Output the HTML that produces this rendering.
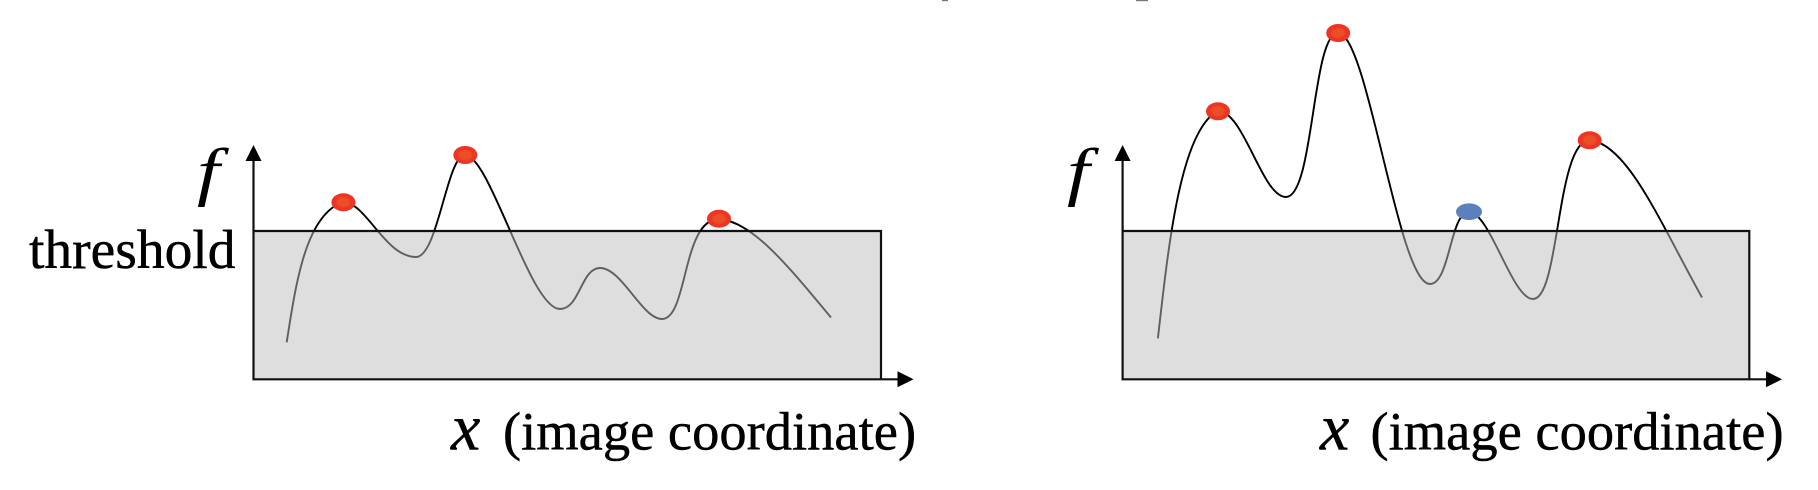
<!DOCTYPE html>
<html>
<head>
<meta charset="utf-8">
<style>
html,body{margin:0;padding:0;background:#fff;width:1818px;height:490px;overflow:hidden}
svg{display:block}
text{font-family:"Liberation Serif",serif;fill:#000;stroke:#000;stroke-width:.45}
text.f{stroke:none}
</style>
</head>
<body>
<svg width="1818" height="490" viewBox="0 0 1818 490" xmlns="http://www.w3.org/2000/svg">
<defs>
<radialGradient id="r"><stop offset="0" stop-color="#ea4f26"/><stop offset=".45" stop-color="#ea4f26"/><stop offset=".65" stop-color="#ee3524"/><stop offset="1" stop-color="#ee3524"/></radialGradient>
</defs>
<rect x="942" y="0" width="6" height="1.2" fill="#777"/>
<rect x="1136" y="0" width="12" height="1.2" fill="#777"/>

<!-- left chart -->
<path d="M286.7,342.3 C296,282 306,215 343,202 C366,202 385,257 416,257 C438,257 447,155 465,155 C490,155 530,309 560,309 C580,309 581,268 600,268 C622,268 642,319 662,319 C688,319 682,219 719,219 C752,222 785,262 831,317.5" fill="none" stroke="#000" stroke-width="1.9"/>
<rect x="253.5" y="231" width="627.5" height="148.3" fill="#bebebe" fill-opacity=".5"/>
<path d="M253.5,160 V379.3 H898 M253.5,231 H881 V379.3" fill="none" stroke="#111" stroke-width="2.2"/>
<polygon points="253.5,145 245.5,161 261.5,161" fill="#000"/>
<polygon points="913.5,379.3 897.5,371.3 897.5,387.3" fill="#000"/>
<ellipse cx="343.4" cy="202.3" rx="12" ry="9" fill="url(#r)"/>
<ellipse cx="465.3" cy="155" rx="12" ry="9" fill="url(#r)"/>
<ellipse cx="719" cy="218.7" rx="12" ry="9" fill="url(#r)"/>
<text x="29" y="268" font-size="55.5">threshold</text>
<text class="f" transform="translate(197,193) scale(1.25,1)" x="0" y="0" font-size="65" font-style="italic">f</text>
<text x="451" y="449.5" font-size="66" font-style="italic">x</text>
<text x="503" y="449.5" font-size="54.5">(image coordinate)</text>

<!-- right chart -->
<path d="M1157.9,338.3 C1168,250 1180,130 1218,111 C1244,111 1262,197 1286,197 C1314,197 1312,33 1338,33 C1368,33 1398,284 1430,284 C1450,284 1450,212 1469,212 C1490,212 1512,299 1533,299 C1560,299 1556,140 1590,140 C1628,145 1660,222 1702,297.5" fill="none" stroke="#000" stroke-width="1.9"/>
<rect x="1122.6" y="231" width="626.7" height="148.3" fill="#bebebe" fill-opacity=".5"/>
<path d="M1122.6,160 V379.3 H1767 M1122.6,231 H1749.3 V379.3" fill="none" stroke="#111" stroke-width="2.2"/>
<polygon points="1122.6,145 1114.6,161 1130.6,161" fill="#000"/>
<polygon points="1782,379.3 1766,371.3 1766,387.3" fill="#000"/>
<ellipse cx="1218" cy="111.3" rx="12" ry="9" fill="url(#r)"/>
<ellipse cx="1338.2" cy="33" rx="12" ry="9" fill="url(#r)"/>
<ellipse cx="1589.7" cy="140.3" rx="12" ry="9" fill="url(#r)"/>
<ellipse cx="1469" cy="211.7" rx="13" ry="8.3" fill="#5b80bb"/>
<text class="f" transform="translate(1067,193) scale(1.25,1)" x="0" y="0" font-size="65" font-style="italic">f</text>
<text x="1320" y="449.5" font-size="66" font-style="italic">x</text>
<text x="1370.5" y="449.5" font-size="54.5">(image coordinate)</text>
</svg>
</body>
</html>
